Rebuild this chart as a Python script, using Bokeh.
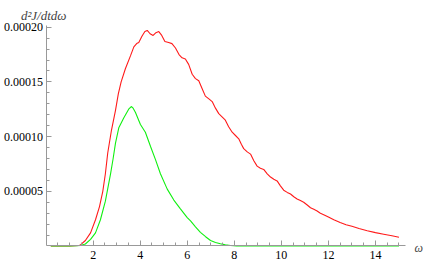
from bokeh.plotting import figure
from bokeh.models import FixedTicker, PrintfTickFormatter, Label, Range1d
from bokeh.embed import file_html
from bokeh.resources import INLINE

# Spectrum d^2J/dt dω vs ω (values in 1e-5 units)
red_w = [0.2, 0.6, 1.0, 1.2, 1.39, 1.46, 1.67, 1.89, 2.10, 2.27, 2.41, 2.52, 2.62, 2.78,
         2.95, 3.07, 3.19, 3.37, 3.59, 3.73, 3.85, 3.94, 4.08, 4.20, 4.30, 4.42, 4.55,
         4.67, 4.79, 4.90, 5.05, 5.21, 5.35, 5.50, 5.65, 5.78, 5.92, 6.06, 6.21, 6.35,
         6.49, 6.63, 6.77, 6.92, 7.06, 7.20, 7.34, 7.48, 7.62, 7.76, 7.91, 8.05, 8.19,
         8.30, 8.40, 8.55, 8.69, 8.83, 8.97, 9.11, 9.25, 9.40, 9.54, 9.68, 9.82, 9.96,
         10.10, 10.25, 10.39, 10.53, 10.67, 10.81, 10.95, 11.10, 11.24, 11.38, 11.52,
         11.66, 11.80, 12.0, 12.23, 12.5, 12.75, 13.0, 13.3, 13.65, 14.0, 14.35, 14.7, 15.0]
red_v = [0, 0, 0.0, 0.02, 0.05, 0.1, 0.5, 1.2, 2.4, 3.6, 5.0, 6.6, 8.5, 10.6,
         12.4, 13.9, 15.0, 16.2, 17.4, 18.2, 18.5, 18.6, 19.2, 19.6, 19.7, 19.4, 19.25,
         19.5, 19.6, 19.3, 18.7, 18.6, 18.5, 18.1, 17.5, 17.2, 17.1, 16.6, 15.7, 15.3,
         15.1, 14.4, 13.7, 13.45, 13.2, 12.6, 12.1, 11.8, 11.5, 10.9, 10.4, 10.1, 9.8,
         9.3, 8.9, 8.6, 8.4, 7.8, 7.3, 7.1, 7.0, 6.6, 6.3, 6.1, 5.95, 5.5,
         5.1, 4.9, 4.75, 4.5, 4.3, 4.15, 4.0, 3.75, 3.5, 3.35, 3.2,
         3.0, 2.86, 2.65, 2.4, 2.15, 1.95, 1.8, 1.6, 1.40, 1.22, 1.08, 0.93, 0.8]

green_w = [0.2, 1.0, 1.3, 1.46, 1.67, 1.89, 2.10, 2.31, 2.52, 2.74, 2.85, 2.95, 3.09,
           3.30, 3.51, 3.62, 3.70, 3.80, 4.01, 4.22, 4.44, 4.65, 4.86, 5.15, 5.43, 5.71,
           6.00, 6.14, 6.35, 6.56, 6.78, 6.99, 7.2, 7.41, 7.62, 7.84, 8.1, 15.0]
green_v = [0, 0, 0.02, 0.05, 0.18, 0.6, 1.2, 2.4, 4.1, 6.6, 8.0, 9.4, 10.8,
           11.7, 12.5, 12.75, 12.6, 12.2, 11.1, 10.4, 9.1, 7.9, 6.6, 5.2, 4.2, 3.4,
           2.6, 2.3, 1.75, 1.25, 0.85, 0.5, 0.32, 0.2, 0.1, 0.05, 0, 0]

scale = 1e-5
x_major = [2, 4, 6, 8, 10, 12, 14]
x_minor = [0.5 * i for i in range(1, 31)]
y_major = [5e-5, 1e-4, 1.5e-4, 2e-4]
y_minor = [i * 1e-5 for i in range(1, 21)]

p = figure(width=426, height=264, output_backend="svg", toolbar_location=None,
           x_range=Range1d(-1.938, 16.17), y_range=Range1d(-1.691e-5, 22.44e-5),
           min_border_left=0, min_border_right=0, min_border_top=0, min_border_bottom=0)
p.outline_line_color = None
p.grid.visible = False

p.line(red_w, [v * scale for v in red_v], line_color="#ff1a1a", line_width=1.1)
p.line(green_w, [v * scale for v in green_v], line_color="#10f010", line_width=1.1)

axis_col = "#999999"
for ax in (p.xaxis[0], p.yaxis[0]):
    ax.fixed_location = 0
    ax.axis_line_color = axis_col
    ax.major_tick_line_color = axis_col
    ax.minor_tick_line_color = axis_col
    ax.major_tick_in = 5
    ax.major_tick_out = 0
    ax.minor_tick_in = 3
    ax.minor_tick_out = 0
    ax.major_label_text_font = "Liberation Serif"
    ax.major_label_text_font_size = "12px"
    ax.major_label_text_color = "#000000"

p.yaxis.major_label_standoff = 3
p.xaxis.major_label_standoff = 5
p.xaxis.bounds = (0, 15.27)
p.yaxis.bounds = (0, 0.0002016)
p.xaxis.ticker = FixedTicker(ticks=x_major, minor_ticks=x_minor)
p.yaxis.ticker = FixedTicker(ticks=y_major, minor_ticks=y_minor)
p.yaxis.formatter = PrintfTickFormatter(format="%.5f")

p.add_layout(Label(x=-1.07, y=21.07e-5, text="d²J/dtdω", text_font="Liberation Serif",
                   text_font_style="italic", text_font_size="13px", text_baseline="alphabetic"))
p.add_layout(Label(x=15.66, y=-0.14e-5, text="ω", text_font="Liberation Serif",
                   text_font_style="italic", text_font_size="12px", text_baseline="middle"))

open("out.html", "w").write(file_html(p, INLINE))
